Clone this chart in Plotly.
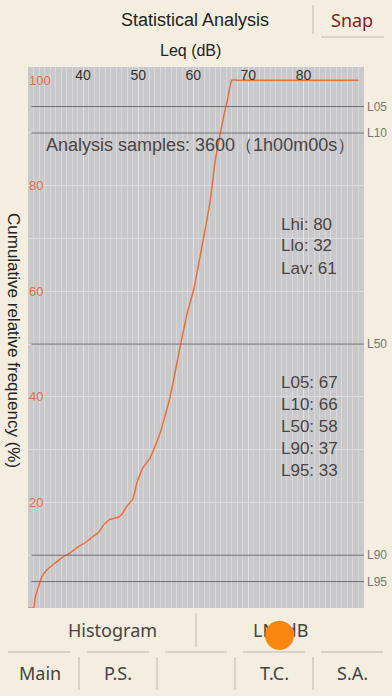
import plotly.graph_objects as go

# ---- data ----
leq_db = [30, 31, 31.3, 31.9, 32.5, 33.4, 34.9, 36.4, 37.6, 39.1, 40.7, 41.6, 42.8, 43.7,
          44.9, 46.4, 47, 47.9, 49, 49.8, 50.9, 52.2, 54, 55.8, 57.5, 58.9, 60.05, 61.8,
          63.1, 64, 64.8, 65.5, 66.2, 67, 68, 90]
cum_pct = [0, 0, 1.9, 4.0, 5.9, 7.2, 8.5, 9.7, 10.4, 11.6, 12.6, 13.4, 14.3, 15.7,
           16.8, 17.2, 17.7, 19.2, 20.6, 23.8, 26.6, 28.5, 33.2, 40, 48.9, 55.8, 60.2, 69.7,
           77.3, 84.8, 89.3, 93, 96.2, 100, 100, 100]
x_ticks = [40, 50, 60, 70, 80]
y_ticks = [20, 40, 60, 80, 100]
ln_names = ["L05", "L10", "L50", "L90", "L95"]
ln_levels = [95, 90, 50, 10, 5]
ln_values = [67, 66, 58, 37, 33]
stat_names = ["Lhi", "Llo", "Lav"]
stat_values = [80, 32, 61]
samples = 3600
duration = "1h00m00s"
tab_labels = ["Main", "P.S.", "", "T.C.", "S.A."]

W, H = 392, 696
L, R, T, B = 28, 28, 67, 88
PW, PH = W - L - R, H - T - B
def px(x): return (x - L) / PW
def py(y): return (H - B - y) / PH

ORANGE = "#E8703A"
TXT = "#4A4444"
FONT = "Liberation Sans, Arial, sans-serif"
FONT2 = "Noto Sans, sans-serif"

def txt(x, y, text, size, color, family=FONT, xanchor="center", **kw):
    return dict(xref="paper", yref="paper", x=px(x), y=py(y), text=text, showarrow=False,
                xanchor=xanchor, yanchor="middle",
                font=dict(family=family, size=size, color=color), **kw)

fig = go.Figure()
fig.add_trace(go.Scatter(x=leq_db, y=cum_pct, mode="lines",
                         line=dict(color=ORANGE, width=1.5, shape="spline", smoothing=0.4),
                         hoverinfo="skip", showlegend=False))

shapes = []
annotations = []
# y tick labels (inside, orange)
for v in y_ticks:
    annotations.append(dict(xref="paper", yref="y", x=0, y=v, text=str(v), showarrow=False,
                            xanchor="left", yanchor="middle", xshift=-1,
                            font=dict(family=FONT, size=13, color=ORANGE)))
for name, lv in zip(ln_names, ln_levels):
    shapes.append(dict(type="line", xref="paper", yref="y", x0=0.01, x1=1, y0=lv, y1=lv,
                       line=dict(color="#6E6E6E", width=1), layer="above"))
    annotations.append(dict(xref="paper", yref="y", x=1, y=lv, text=name, showarrow=False,
                            xanchor="left", yanchor="middle", xshift=1,
                            font=dict(family=FONT, size=12, color="#777")))

# header
annotations += [
    txt(195, 20, "Statistical Analysis", 18, "#222"),
    txt(352, 20, "Snap", 18, "#8B1A1A", family=FONT2),
    txt(190, 50, "Leq (dB)", 16, "#222"),
    txt(14, 340, "Cumulative relative frequency (%)", 17, "#222", textangle=90),
    txt(201, 145, f"Analysis samples: {samples}（{duration}）", 18, TXT),
]
for i, (n, v) in enumerate(zip(stat_names, stat_values)):
    annotations.append(txt(279, 224 + 22 * i, f"{n}: {v}", 17, TXT, xanchor="left"))
for i, (n, v) in enumerate(zip(ln_names, ln_values)):
    annotations.append(txt(279, 382 + 22 * i, f"{n}: {v}", 17, TXT, xanchor="left"))

# bottom controls
annotations += [
    txt(112, 630, "Histogram", 18, "#444", family=FONT2),
    txt(280, 630, "LN: dB", 18, "#444", family=FONT2),
    txt(279, 632, "●", 38, "#F7870F", family="DejaVu Sans"),
]
tab_x = [40, 118, 196, 274, 352]
for tx, lab in zip(tab_x, tab_labels):
    if lab:
        annotations.append(txt(tx, 673, lab, 18, "#444", family=FONT2))

LC = "#BDB8AC"
shapes.append(dict(type="line", xref="paper", yref="paper", x0=px(313), x1=px(313),
                   y0=py(5), y1=py(34), line=dict(color=LC, width=1)))
shapes.append(dict(type="line", xref="paper", yref="paper", x0=px(321), x1=px(384),
                   y0=py(37), y1=py(37), line=dict(color=LC, width=1)))
shapes.append(dict(type="line", xref="paper", yref="paper", x0=px(196), x1=px(196),
                   y0=py(613), y1=py(647), line=dict(color=LC, width=1)))
for x0 in [8, 87, 165, 243, 321]:
    shapes.append(dict(type="line", xref="paper", yref="paper", x0=px(x0), x1=px(x0 + 62),
                       y0=py(652), y1=py(652), line=dict(color=LC, width=1)))
for xs in [79, 157, 235, 313]:
    shapes.append(dict(type="line", xref="paper", yref="paper", x0=px(xs), x1=px(xs),
                       y0=py(657), y1=py(690), line=dict(color=LC, width=1)))

fig.update_layout(
    width=W, height=H, margin=dict(l=L, r=R, t=T, b=B),
    paper_bgcolor="#F3EEDF", plot_bgcolor="#C9C9CB",
    shapes=shapes, annotations=annotations, showlegend=False,
    xaxis=dict(range=[30, 91], side="top", tickmode="array", tickvals=x_ticks,
               ticklabelposition="inside", ticks="", showline=False, zeroline=False,
               tickfont=dict(family=FONT, size=14, color="#333"),
               showgrid=True, gridcolor="#E2E2E2", gridwidth=1.2,
               minor=dict(tickmode="linear", tick0=30, dtick=1, showgrid=True,
                          gridcolor="#D8D8DA", gridwidth=1)),
    yaxis=dict(range=[0, 102.5], tickmode="array", tickvals=y_ticks,
               showticklabels=False, ticks="", showline=False, zeroline=False,
               showgrid=True, gridcolor="#DCDCDC",
               minor=dict(tickmode="linear", tick0=0, dtick=10, showgrid=True,
                          gridcolor="#DCDCDC", gridwidth=1)),
)
fig.write_html("out.html")
